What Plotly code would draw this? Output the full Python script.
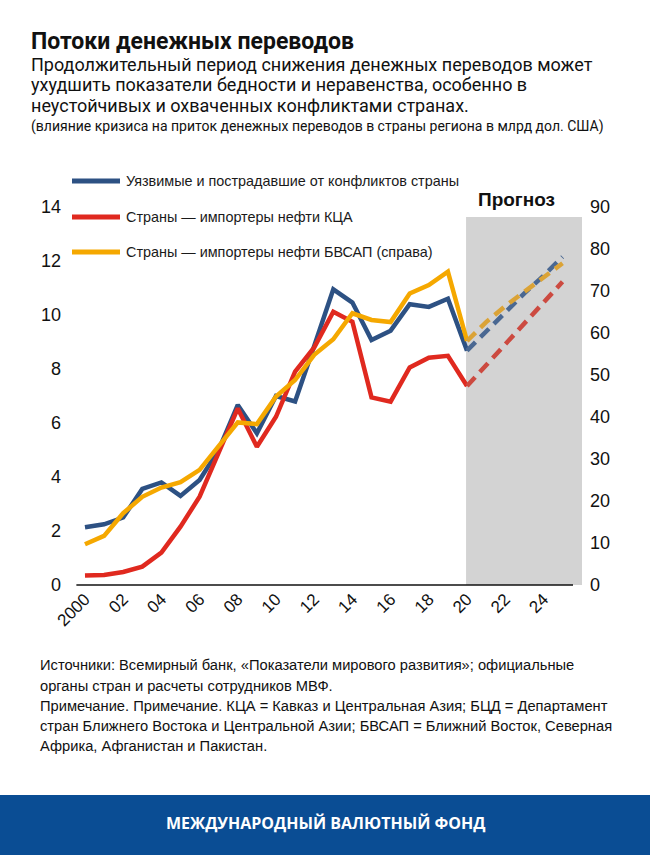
import plotly.graph_objects as go

# ---------------- data ----------------
years_hist = list(range(2000, 2021))
years_fcst = list(range(2020, 2026))

fragile_hist = [2.14, 2.25, 2.5, 3.56, 3.8, 3.3, 3.89, 5.0, 6.67, 5.62, 7.0, 6.8,
                8.85, 10.95, 10.46, 9.07, 9.42, 10.4, 10.3, 10.6, 8.68]
fragile_fcst = [8.68, 9.4, 10.1, 10.8, 11.45, 12.15]

cca_hist = [0.35, 0.37, 0.48, 0.68, 1.2, 2.16, 3.27, 4.88, 6.54, 5.12, 6.23, 7.9,
            8.8, 10.12, 9.75, 6.95, 6.79, 8.06, 8.42, 8.49, 7.37]
cca_fcst = [7.37, 8.15, 8.9, 9.7, 10.45, 11.23]

menap_hist = [9.7, 11.7, 17.1, 21.0, 23.2, 24.5, 27.4, 32.9, 38.7, 38.3, 44.9, 48.8,
              54.8, 58.5, 64.7, 63.1, 62.6, 69.4, 71.4, 74.6, 58.1]
menap_fcst = [58.1, 62.6, 66.4, 69.9, 73.3, 76.6]

xtick_vals = list(range(2000, 2025, 2))
xtick_text = ["2000", "02", "04", "06", "08", "10", "12", "14", "16", "18", "20", "22", "24"]

legend_names = ["Уязвимые и пострадавшие от конфликтов страны",
                "Страны — импортеры нефти КЦА",
                "Страны — импортеры нефти БВСАП (справа)"]

title = "Потоки денежных переводов"
subtitle_lines = ["Продолжительный период снижения денежных переводов может",
                  "ухудшить показатели бедности и неравенства, особенно в",
                  "неустойчивых и охваченных конфликтами странах."]
units = "(влияние кризиса на приток денежных переводов в страны региона в млрд дол. США)"
notes = ["Источники: Всемирный банк, «Показатели мирового развития»; официальные",
         "органы стран и расчеты сотрудников МВФ.",
         "Примечание. Примечание. КЦА = Кавказ и Центральная Азия; БЦД = Департамент",
         "стран Ближнего Востока и Центральной Азии; БВСАП = Ближний Восток, Северная",
         "Африка, Афганистан и Пакистан."]
footer = "МЕЖДУНАРОДНЫЙ ВАЛЮТНЫЙ ФОНД"

# ---------------- styling ----------------
W, H = 650, 855
L, R, T, B = 76, 582, 207, 585
XMIN, XMAX = 1999.53, 2026.02

BLUE, RED, YELLOW = "#2d5183", "#e0291f", "#f5a800"
BLUE_D, RED_D, YELLOW_D = "#4a6892", "#cc4a40", "#dba336"
LW = 4.5
DASH = "12px,7px"
ARIAL = "Liberation Sans, Arial, sans-serif"


def px(xp):
    return (xp - L) / (R - L)


def py(yp):
    return (B - yp) / (B - T)


fig = go.Figure()

fig.add_trace(go.Scatter(x=years_hist, y=fragile_hist, mode="lines",
                         line=dict(color=BLUE, width=LW), name=legend_names[0],
                         showlegend=False))
fig.add_trace(go.Scatter(x=years_hist, y=cca_hist, mode="lines",
                         line=dict(color=RED, width=LW), name=legend_names[1],
                         showlegend=False))
fig.add_trace(go.Scatter(x=years_hist, y=menap_hist, mode="lines", yaxis="y2",
                         line=dict(color=YELLOW, width=LW), name=legend_names[2],
                         showlegend=False))
fig.add_trace(go.Scatter(x=years_fcst, y=fragile_fcst, mode="lines",
                         line=dict(color=BLUE_D, width=LW, dash=DASH),
                         showlegend=False))
fig.add_trace(go.Scatter(x=years_fcst, y=cca_fcst, mode="lines",
                         line=dict(color=RED_D, width=LW, dash=DASH),
                         showlegend=False))
fig.add_trace(go.Scatter(x=years_fcst, y=menap_fcst, mode="lines", yaxis="y2",
                         line=dict(color=YELLOW_D, width=LW, dash=DASH),
                         showlegend=False))

shapes = []
# forecast shading
shapes.append(dict(type="rect", xref="x", yref="paper", x0=2019.95, x1=XMAX,
                   y0=0, y1=13.63 / 14, fillcolor="#d3d3d3", line=dict(width=0),
                   layer="below"))
# baseline
shapes.append(dict(type="line", xref="paper", yref="paper",
                   x0=(1999.55 - XMIN) / (XMAX - XMIN), x1=(2025.55 - XMIN) / (XMAX - XMIN),
                   y0=0, y1=0, line=dict(color="#111111", width=1.6)))
# footer bar
shapes.append(dict(type="rect", xref="paper", yref="paper", x0=px(0), x1=px(W),
                   y0=py(H), y1=py(795), fillcolor="#0a4d94", line=dict(width=0)))

annotations = []
# legend (manual)
leg_y = [181, 217, 252]
for c, name, yy in zip([BLUE, RED, YELLOW], legend_names, leg_y):
    shapes.append(dict(type="line", xref="paper", yref="paper", x0=px(72), x1=px(120),
                       y0=py(yy), y1=py(yy), line=dict(color=c, width=5)))
    annotations.append(dict(text=name, xref="paper", yref="paper", x=px(124), y=py(yy),
                            xanchor="left", yanchor="middle", showarrow=False,
                            font=dict(family=ARIAL, size=14.4, color="#1a1a1a")))

annotations.append(dict(text="<b>Прогноз</b>", xref="paper", yref="paper", x=px(516), y=py(199),
                        xanchor="center", yanchor="middle", showarrow=False,
                        font=dict(family=ARIAL, size=19, color="#111111")))

annotations.append(dict(text="<b>" + title + "</b>", xref="paper", yref="paper", x=px(29), y=py(41),
                        xanchor="left", yanchor="middle", showarrow=False,
                        font=dict(family="Roboto", size=23, color="#111111")))
for line, yy in zip(subtitle_lines, [64.5, 85, 105]):
    annotations.append(dict(text=line, xref="paper", yref="paper", x=px(29), y=py(yy),
                            xanchor="left", yanchor="middle", showarrow=False,
                            font=dict(family="Roboto", size=18, color="#111111")))
annotations.append(dict(text=units, xref="paper", yref="paper", x=px(29), y=py(126),
                        xanchor="left", yanchor="middle", showarrow=False,
                        font=dict(family="Roboto", size=14, color="#111111")))

for line, yy in zip(notes, [665, 686, 706, 726, 746]):
    annotations.append(dict(text=line, xref="paper", yref="paper", x=px(38), y=py(yy),
                            xanchor="left", yanchor="middle", showarrow=False,
                            font=dict(family=ARIAL, size=14.7, color="#111111")))

annotations.append(dict(text="<b>" + footer + "</b>", xref="paper", yref="paper", x=px(325), y=py(823),
                        xanchor="center", yanchor="middle", showarrow=False,
                        font=dict(family="Open Sans", size=16, color="#ffffff")))

fig.update_layout(
    width=W, height=H,
    margin=dict(l=L, r=W - R, t=T, b=H - B, pad=0),
    paper_bgcolor="white", plot_bgcolor="white",
    showlegend=False,
    shapes=shapes, annotations=annotations,
    xaxis=dict(range=[XMIN, XMAX], tickvals=xtick_vals, ticktext=xtick_text,
               tickangle=-45, showgrid=False, zeroline=False, showline=False,
               ticks="", tickfont=dict(family=ARIAL, size=17, color="#111111")),
    yaxis=dict(range=[0, 14], dtick=2, showgrid=False, zeroline=False, showline=False,
               ticks="", ticklabelstandoff=14,
               tickfont=dict(family=ARIAL, size=18, color="#111111")),
    yaxis2=dict(range=[0, 90], dtick=10, overlaying="y", side="right",
                showgrid=False, zeroline=False, showline=False, ticks="",
                ticklabelstandoff=7,
                tickfont=dict(family=ARIAL, size=18, color="#111111")),
)

fig.write_html("out.html", config={"displayModeBar": False},
               post_script="document.body.style.margin='0';document.body.style.overflow='hidden';")
